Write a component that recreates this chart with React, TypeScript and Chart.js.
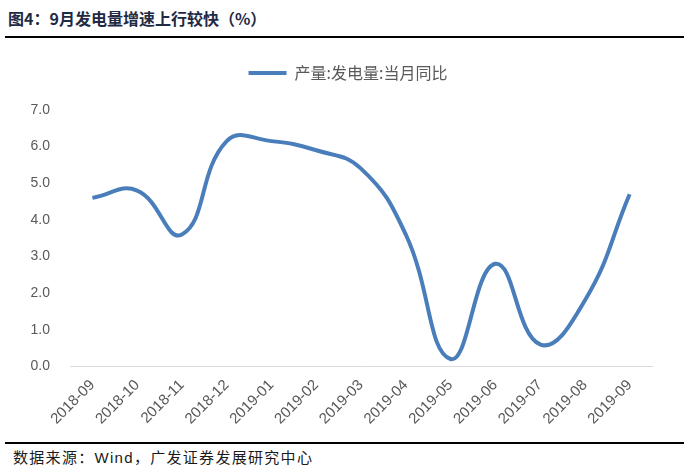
import React, { useEffect, useRef } from "react";
import { Chart, registerables } from "chart.js";

Chart.register(...registerables);

const categories = [
  "2018-09", "2018-10", "2018-11", "2018-12", "2019-01", "2019-02", "2019-03",
  "2019-04", "2019-05", "2019-06", "2019-07", "2019-08", "2019-09",
];
const seriesName = "产量:发电量:当月同比";
const seriesValues = [4.6, 4.8, 3.6, 6.15, 6.15, 5.9, 5.4, 3.6, 0.2, 2.8, 0.6, 1.8, 4.7];
const yTicks = [0, 1, 2, 3, 4, 5, 6, 7];

const titleText = "图4：9月发电量增速上行较快（%）";
const sourceText = "数据来源：Wind，广发证券发展研究中心";

const BLUE = "#4a7ebb";
const LEGEND_GAP = 19;
const LEGEND_SHIFT = 22;

const legendTweak = {
  id: "legendTweak",
  beforeLayout(chart: any) {
    const lg = chart.legend;
    if (lg && !lg._patched) {
      const f = lg.fit.bind(lg);
      lg.fit = function () {
        f();
        this.height += LEGEND_GAP;
      };
      lg._patched = true;
    }
  },
  afterLayout(chart: any) {
    const lg = chart.legend;
    if (lg) {
      lg.left += LEGEND_SHIFT;
      lg.right += LEGEND_SHIFT;
    }
  },
};

export default function App() {
  const ref = useRef<HTMLCanvasElement | null>(null);

  useEffect(() => {
    document.body.style.margin = "0";
    const canvas = ref.current;
    if (!canvas) return;
    const chart = new Chart(canvas, {
      type: "line",
      data: {
        labels: categories,
        datasets: [
          {
            label: seriesName,
            data: seriesValues,
            borderColor: BLUE,
            backgroundColor: BLUE,
            borderWidth: 4,
            pointRadius: 0,
            tension: 0.45,
            fill: false,
          },
        ],
      },
      plugins: [legendTweak],
      options: {
        animation: false,
        responsive: false,
        maintainAspectRatio: false,
        layout: { padding: { left: 0, right: 37, top: 15, bottom: 2 } },
        plugins: {
          tooltip: { enabled: false },
          legend: {
            display: true,
            position: "top",
            labels: {
              boxWidth: 38,
              boxHeight: 4,
              color: "#595959",
              font: { family: "'Noto Sans CJK SC', sans-serif", size: 16 },
              padding: 10,
              generateLabels: (c: any) =>
                Chart.defaults.plugins.legend.labels.generateLabels(c).map((l: any) => ({
                  ...l,
                  lineWidth: 0,
                  fillStyle: BLUE,
                  strokeStyle: BLUE,
                })),
            },
          },
        },
        scales: {
          x: {
            offset: true,
            grid: { display: false, drawTicks: false },
            border: { display: true, color: "#d9d9d9", width: 1 },
            ticks: {
              color: "#595959",
              font: { family: "'Liberation Sans', Arial, sans-serif", size: 15 },
              maxRotation: 45,
              minRotation: 45,
              padding: 10,
              autoSkip: false,
            },
          },
          y: {
            min: 0,
            max: 7,
            grid: { display: false, drawTicks: false },
            border: { display: false },
            afterFit: (s: any) => {
              s.width = 70;
            },
            afterBuildTicks: (s: any) => {
              s.ticks = yTicks.map((v) => ({ value: v }));
            },
            ticks: {
              color: "#595959",
              font: { family: "'Liberation Sans', Arial, sans-serif", size: 14 },
              padding: 20,
              callback: (v: any) => Number(v).toFixed(1),
            },
          },
        },
      },
    });
    return () => chart.destroy();
  }, []);

  return (
    <div style={{ position: "relative", width: 689, height: 474, background: "#fff", overflow: "hidden" }}>
      <div
        style={{
          position: "absolute",
          left: 8,
          top: 7,
          fontFamily: "'Noto Sans CJK SC', sans-serif",
          fontWeight: 700,
          fontSize: 16,
          color: "#1f2a44",
          whiteSpace: "nowrap",
          lineHeight: "22px",
        }}
      >
        {titleText}
      </div>
      <div style={{ position: "absolute", left: 5, top: 36, width: 679, height: 1.5, background: "#000" }} />
      <canvas
        ref={ref}
        width={689}
        height={400}
        style={{ position: "absolute", left: 0, top: 40, width: 689, height: 400 }}
      />
      <div style={{ position: "absolute", left: 5, top: 442, width: 679, height: 1.5, background: "#000" }} />
      <div
        style={{
          position: "absolute",
          left: 13,
          top: 448,
          fontFamily: "'Liberation Sans', 'Noto Sans CJK SC', sans-serif",
          fontSize: 15,
          letterSpacing: 1.3,
          color: "#1a1a1a",
          whiteSpace: "nowrap",
          lineHeight: "20px",
        }}
      >
        {sourceText}
      </div>
    </div>
  );
}
